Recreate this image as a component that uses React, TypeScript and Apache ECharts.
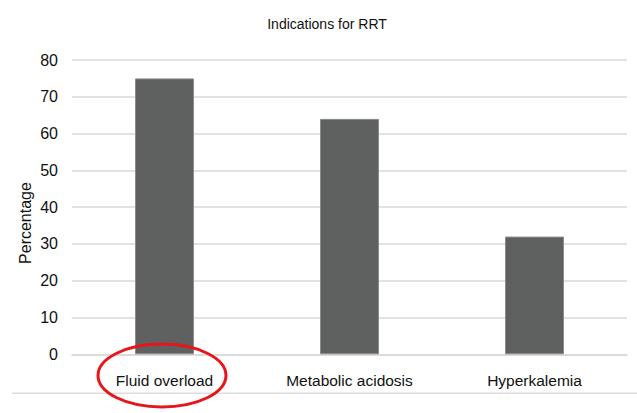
import React, { useEffect, useRef } from "react";
import * as echarts from "echarts";

const categories = ["Fluid overload", "Metabolic acidosis", "Hyperkalemia"];
const percentages = [75, 64, 32];
const yTicks = { min: 0, max: 80, interval: 10 };
const titleText = "Indications for RRT";
const yAxisName = "Percentage";

export default function App() {
  const ref = useRef<HTMLDivElement>(null);
  useEffect(() => {
    if (!ref.current) return;
    const chart = echarts.init(ref.current, undefined, { renderer: "svg" });
    const font = "Liberation Sans, Arial, Helvetica, sans-serif";
    chart.setOption({
      animation: false,
      backgroundColor: "#ffffff",
      title: {
        text: titleText,
        left: 322,
        top: 12,
        textAlign: "center",
        textStyle: { fontFamily: font, fontSize: 14, fontWeight: "normal", color: "#111" },
      },
      grid: { left: 72, right: 10, top: 60, bottom: 58.7 },
      xAxis: {
        type: "category",
        data: categories,
        axisLine: { lineStyle: { color: "#d9d9d9", width: 1.5 } },
        axisTick: { show: false },
        axisLabel: { fontFamily: font, fontSize: 15.5, color: "#111", margin: 18 },
      },
      yAxis: {
        type: "value",
        min: yTicks.min,
        max: yTicks.max,
        interval: yTicks.interval,
        axisLine: { show: false },
        axisTick: { show: false },
        axisLabel: { fontFamily: font, fontSize: 16, color: "#111", margin: 14 },
        splitLine: { lineStyle: { color: "#d9d9d9", width: 1.5 } },
      },
      series: [
        {
          type: "bar",
          data: percentages,
          barWidth: 59,
          itemStyle: { color: "#5f6060", borderColor: "#8c8c8c", borderWidth: 1 },
        },
      ],
      graphic: [
        {
          type: "text",
          x: 25,
          y: 223,
          rotation: Math.PI / 2,
          style: {
            text: yAxisName,
            fontFamily: font,
            fontSize: 16,
            fill: "#111",
            align: "center",
            verticalAlign: "middle",
          },
          silent: true,
        },
        {
          type: "line",
          shape: { x1: 12, y1: 393.3, x2: 637, y2: 393.3 },
          style: { stroke: "#dddddd", lineWidth: 1.5 },
          silent: true,
        },
        {
          type: "ellipse",
          shape: { cx: 162, cy: 375.5, rx: 64, ry: 31.5 },
          style: { fill: "transparent", stroke: "#e5161c", lineWidth: 3 },
          silent: true,
          z: 100,
        },
      ],
    });
    return () => chart.dispose();
  }, []);
  return (
    <div
      ref={ref}
      style={{ position: "fixed", left: 0, top: 0, width: 637, height: 413 }}
    />
  );
}
